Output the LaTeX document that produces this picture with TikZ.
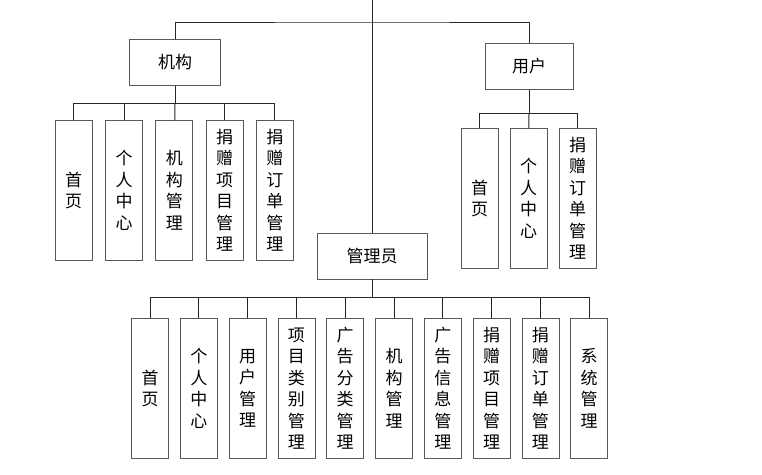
\documentclass[tikz,border=0pt]{standalone}
\usepackage{fontspec}
\setmainfont{Noto Sans CJK SC}
\usetikzlibrary{positioning}

\begin{document}
\begin{tikzpicture}[x=1pt, y=-1pt]
    \tikzset
    {
        base/.style = {draw = black!65,
                       line width = 0.8pt,
                       inner sep = 0pt,
                       font = \fontsize{17pt}{21.5pt}\selectfont,
                       align = center},
        role/.style = {base,
                       rectangle,
                       minimum width = 91pt,
                       minimum height = 46pt},
        page/.style = {base,
                       rectangle,
                       node distance = 11.2pt,
                       minimum width = 37pt,
                       minimum height = 140pt},
        link/.style = {draw = black!85,
                       line width = 1pt}
    };
    \useasboundingbox (0,0) rectangle (762,474);

    % Roles
    \coordinate (root) at (372,0);
    \node[role] (jg) at (175,62.5) {机构};
    \node[role, minimum width = 88pt] (yh) at (529,66.5) {用户};
    \node[role, minimum width = 110pt] (gly) at (372,256) {管理员};

    % 机构
    \node[page, anchor = north, node distance = 12.5pt] (jg 1) at (73.7,120) {首\\页};
    \node[page, node distance = 12.5pt] (jg 2) [right=of jg 1] {个\\人\\中\\心};
    \node[page, node distance = 12.5pt] (jg 3) [right=of jg 2] {机\\构\\管\\理};
    \node[page, node distance = 12.5pt] (jg 4) [right=of jg 3] {捐\\赠\\项\\目\\管\\理};
    \node[page, node distance = 12.5pt] (jg 5) [right=of jg 4] {捐\\赠\\订\\单\\管\\理};

    % 用户
    \node[page, anchor = north] (yh 1) at (479.5,128) {首\\页};
    \node[page] (yh 2) [right=of yh 1] {个\\人\\中\\心};
    \node[page] (yh 3) [right=of yh 2] {捐\\赠\\订\\单\\管\\理};

    % 管理员
    \node[page, anchor = north, node distance = 11pt] (gly 1) at (150,318) {首\\页};
    \node[page, node distance = 11pt] (gly 2) [right=of gly 1] {个\\人\\中\\心};
    \node[page, node distance = 11pt] (gly 3) [right=of gly 2] {用\\户\\管\\理};
    \node[page, node distance = 11pt] (gly 4) [right=of gly 3] {项\\目\\类\\别\\管\\理};
    \node[page, node distance = 11pt] (gly 5) [right=of gly 4] {广\\告\\分\\类\\管\\理};
    \node[page, node distance = 11pt] (gly 6) [right=of gly 5] {机\\构\\管\\理};
    \node[page, node distance = 11pt] (gly 7) [right=of gly 6] {广\\告\\信\\息\\管\\理};
    \node[page, node distance = 11pt] (gly 8) [right=of gly 7] {捐\\赠\\项\\目\\管\\理};
    \node[page, node distance = 11pt] (gly 9) [right=of gly 8] {捐\\赠\\订\\单\\管\\理};
    \node[page, node distance = 11pt] (gly 10) [right=of gly 9] {系\\统\\管\\理};

    % Bars
    \coordinate (top bar) at (372,22);
    \coordinate (jg bar) at (175,103);
    \coordinate (yh bar) at (529,113);
    \coordinate (gly bar) at (372,297);

    % Links
    \draw[link] (root) -- (gly);
    \draw[link] (jg) |- (top bar) -| (yh);
    %% 机构
    \draw[link] (jg) -- (jg bar);
    \draw[link] (jg bar) -| (jg 1);
    \draw[link] (jg bar) -| (jg 2);
    \draw[link] (jg bar) -- (jg 3);
    \draw[link] (jg bar) -| (jg 4);
    \draw[link] (jg bar) -| (jg 5);
    %% 用户
    \draw[link] (yh) -- (yh bar);
    \draw[link] (yh bar) -| (yh 1);
    \draw[link] (yh bar) -- (yh 2);
    \draw[link] (yh bar) -| (yh 3);
    %% 管理员
    \draw[link] (gly) -- (gly bar);
    \draw[link] (gly bar) -| (gly 1);
    \draw[link] (gly bar) -| (gly 2);
    \draw[link] (gly bar) -| (gly 3);
    \draw[link] (gly bar) -| (gly 4);
    \draw[link] (gly bar) -| (gly 5);
    \draw[link] (gly bar) -| (gly 6);
    \draw[link] (gly bar) -| (gly 7);
    \draw[link] (gly bar) -| (gly 8);
    \draw[link] (gly bar) -| (gly 9);
    \draw[link] (gly bar) -| (gly 10);
\end{tikzpicture}
\end{document}
